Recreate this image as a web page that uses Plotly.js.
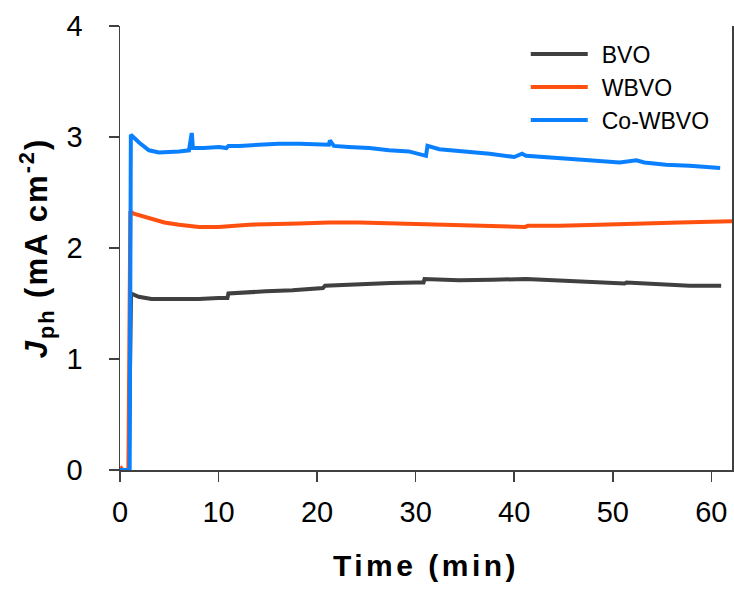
<!DOCTYPE html>
<html>
<head>
<meta charset="utf-8">
<script src="https://cdn.plot.ly/plotly-3.0.1.min.js"></script>
<style>
html,body{margin:0;padding:0;background:#fff;}
#chart{width:734px;height:590px;}
.xtitle{letter-spacing:3.5px;}
.ytitle{letter-spacing:2px;}
.legend .scrollbox{clip-path:none !important;}
.legendtext{transform:translateX(9px);}
</style>
</head>
<body>
<div id="chart"></div>
<script>
// Time (min) and photocurrent density (mA cm^-2)
const bvoTime = [0, 0.5, 0.9, 1.0, 1.12, 1.9, 3.2, 6.0, 8.0, 10.0, 10.9, 11.0, 12.5, 14.8, 17.5, 20.6, 20.8, 22.8, 24.9, 27.5, 30.0, 30.8, 30.9, 34.4, 37.8, 41.2, 44.0, 46.6, 49.5, 51.2, 51.4, 54.7, 57.8, 61.0];
const bvoJ    = [0, 0, 0, 0.8, 1.59, 1.56, 1.54, 1.54, 1.54, 1.55, 1.55, 1.59, 1.60, 1.61, 1.62, 1.64, 1.66, 1.67, 1.68, 1.685, 1.69, 1.69, 1.72, 1.71, 1.715, 1.72, 1.71, 1.70, 1.695, 1.68, 1.69, 1.67, 1.66, 1.66];

const wbvoTime = [0, 0.3, 0.85, 1.05, 1.4, 2.9, 4.5, 6.0, 8.0, 10.0, 13.1, 18.2, 21.2, 24.3, 28.3, 31.4, 34.4, 38.5, 41.1, 41.4, 44.6, 48.6, 52.0, 56.8, 62.1];
const wbvoJ    = [0.03, 0, 0, 2.33, 2.31, 2.27, 2.23, 2.21, 2.19, 2.19, 2.21, 2.22, 2.23, 2.23, 2.22, 2.21, 2.20, 2.19, 2.19, 2.20, 2.20, 2.21, 2.22, 2.23, 2.24];

const cowbvoTime = [0, 0.5, 0.9, 0.98, 1.1, 1.93, 2.94, 3.96, 6.0, 7.0, 7.25, 7.3, 7.4, 8.5, 10.05, 10.8, 11.0, 12.1, 14.1, 16.1, 18.2, 20.2, 21.2, 21.3, 21.7, 23.2, 25.3, 27.3, 29.3, 31.05, 31.2, 32.4, 35.0, 37.5, 40.0, 40.8, 41.2, 43.0, 45.3, 47.6, 50.7, 52.4, 53.2, 55.4, 57.8, 60.9];
const cowbvoJ    = [0, 0, 0, 0, 3.02, 2.95, 2.88, 2.86, 2.87, 2.88, 3.02, 3.02, 2.90, 2.90, 2.91, 2.90, 2.92, 2.92, 2.93, 2.94, 2.94, 2.93, 2.93, 2.97, 2.92, 2.91, 2.90, 2.88, 2.87, 2.83, 2.92, 2.89, 2.87, 2.85, 2.82, 2.85, 2.83, 2.82, 2.81, 2.79, 2.77, 2.79, 2.77, 2.75, 2.74, 2.72];

const seriesNames = ['BVO', 'WBVO', 'Co-WBVO'];
const seriesColors = ['#404040', '#ff5010', '#0a80ff'];

const xTicks = [0, 10, 20, 30, 40, 50, 60];
const yTicks = [0, 1, 2, 3, 4];

const traces = [
  {x: bvoTime, y: bvoJ},
  {x: wbvoTime, y: wbvoJ},
  {x: cowbvoTime, y: cowbvoJ}
].map((d, i) => ({
  x: d.x, y: d.y, type: 'scatter', mode: 'lines', name: seriesNames[i],
  line: {color: seriesColors[i], width: 4}
}));

const font = 'Liberation Sans, Arial, sans-serif';
const layout = {
  width: 734, height: 590,
  margin: {l: 120, r: 2, t: 26, b: 120},
  paper_bgcolor: '#fff', plot_bgcolor: '#fff',
  showlegend: true,
  legend: {
    x: 0.663, y: 0.985, xanchor: 'left', yanchor: 'top',
    font: {family: font, size: 23, color: '#000'},
    bgcolor: 'rgba(0,0,0,0)', itemwidth: 57, tracegroupgap: 0
  },
  xaxis: {
    range: [0, 62.1], tickvals: xTicks, ticktext: xTicks.map(String),
    showgrid: false, zeroline: false, showline: true, linecolor: '#404040', linewidth: 1.5,
    ticks: 'outside', ticklen: 10, tickwidth: 1.5, tickcolor: '#404040',
    tickfont: {family: font, size: 29, color: '#000'}, ticklabelstandoff: 6,
    title: {text: 'Time (min)', font: {family: font, size: 30, color: '#000', weight: 'bold'}, standoff: 27}
  },
  yaxis: {
    range: [0, 4], tickvals: yTicks, ticktext: yTicks.map(String),
    showgrid: false, zeroline: false, showline: true, mirror: true, linecolor: '#404040', linewidth: 1.5,
    ticks: 'outside', ticklen: 10, tickwidth: 1.5, tickcolor: '#404040',
    tickfont: {family: font, size: 29, color: '#000'}, ticklabelstandoff: 20,
    title: {text: '<i>J</i><sub>ph</sub> (mA cm<sup>-2</sup>)', font: {family: font, size: 31, color: '#000', weight: 'bold'}, standoff: 9}
  }
};

Plotly.newPlot('chart', traces, layout, {staticPlot: true, displayModeBar: false});
</script>
</body>
</html>
